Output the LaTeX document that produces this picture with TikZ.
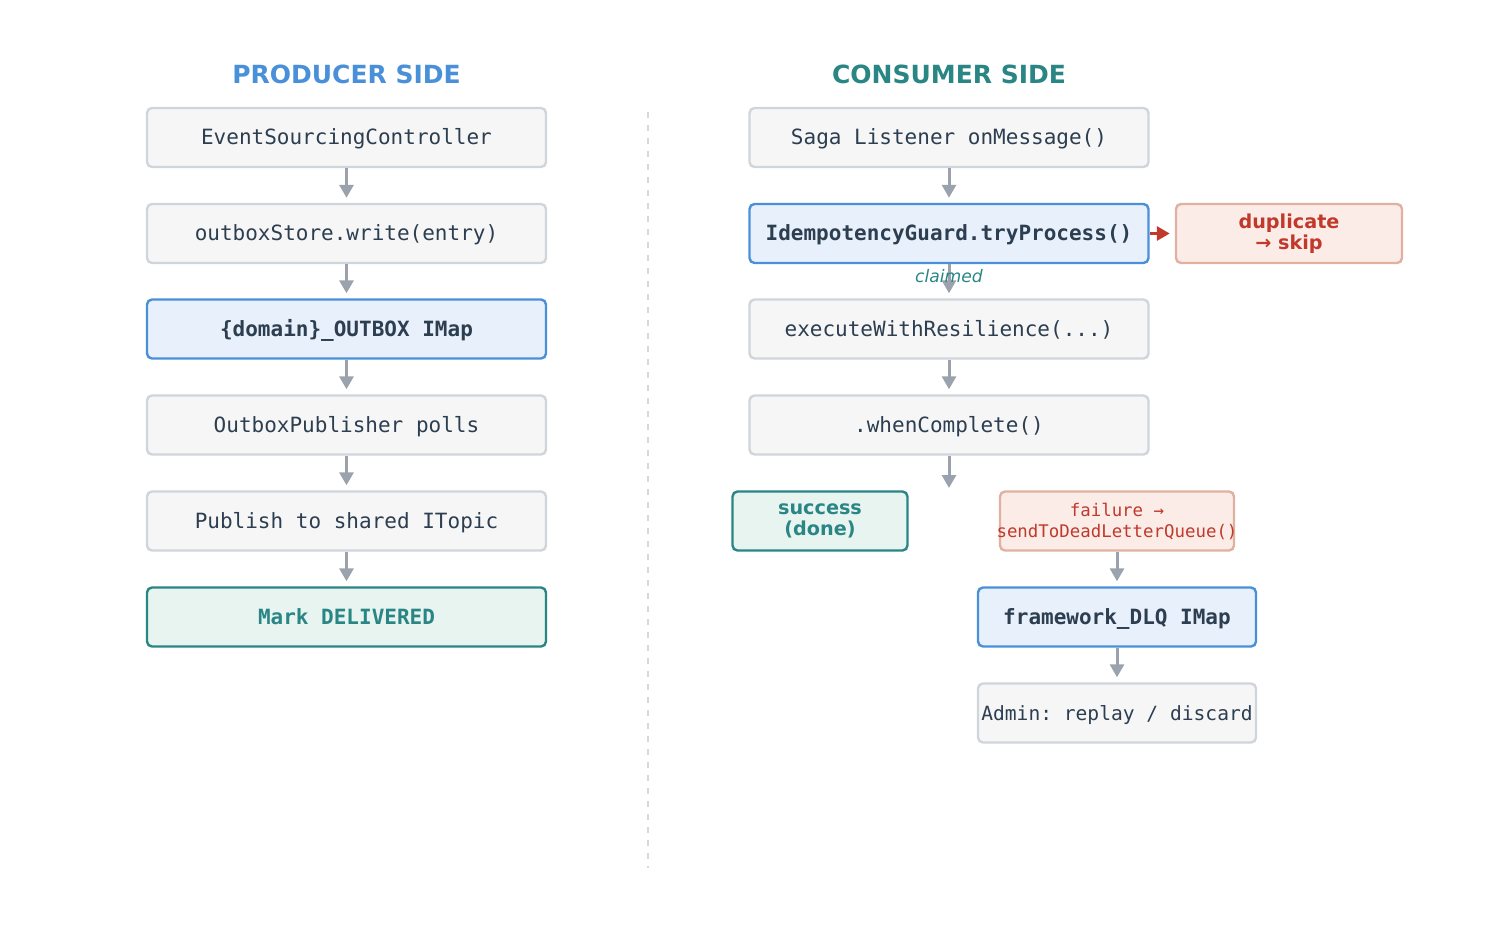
\documentclass[tikz,border=0pt]{standalone}
\usepackage{fontspec}
\setmainfont{DejaVu Sans}
\newfontfamily\monofont{DejaVu Sans Mono}
\usetikzlibrary{arrows.meta}
\frenchspacing
\definecolor{txt}{HTML}{2C3E50}
\definecolor{grayfill}{HTML}{F6F6F6}
\definecolor{grayline}{HTML}{D0D5DC}
\definecolor{bluefill}{HTML}{E8F0FB}
\definecolor{blueline}{HTML}{4A90D9}
\definecolor{greenfill}{HTML}{E8F4F0}
\definecolor{teal}{HTML}{2A8585}
\definecolor{redfill}{HTML}{FBECE8}
\definecolor{redline}{HTML}{E0B0A0}
\definecolor{redtxt}{HTML}{C0392B}
\definecolor{arrowgray}{HTML}{9AA3AD}
\definecolor{divider}{HTML}{D8D8D8}
\tikzset{
  boxbase/.style={draw=grayline, fill=grayfill, line width=1.2pt, rounded corners=2.5pt,
    minimum width=199.5pt, minimum height=29.5pt, inner sep=0pt, text=txt},
  box/.style={boxbase, text height=7.7pt, text depth=0.5pt,
    font=\monofont\fontsize{10.5}{12}\selectfont},
  bluebox/.style={box, draw=blueline, fill=bluefill, font=\monofont\bfseries\fontsize{10.5}{12}\selectfont},
  greenbox/.style={box, draw=teal, fill=greenfill, text=teal, font=\monofont\bfseries\fontsize{10.5}{12}\selectfont},
  twoline/.style={boxbase, align=center},
  flow/.style={draw=arrowgray, line width=1.5pt, -{Triangle[width=7pt,length=6.5pt]}, shorten >=2.5pt},
  redflow/.style={draw=redtxt, line width=1.5pt, -{Triangle[width=7pt,length=6.5pt]}, shorten >=2.5pt},
  title/.style={font=\bfseries\fontsize{12.5}{14}\selectfont}
}
\begin{document}
\begin{tikzpicture}[x=0.5pt,y=-0.5pt]
\useasboundingbox (0,0) rectangle (1485,944);
% titles
\node[title, text=blueline] (pt) at (346.5,74.5) {PRODUCER SIDE};
\node[title, text=teal] (ct) at (949,74.5) {CONSUMER SIDE};
% divider
\coordinate (d1) at (648,112);
\coordinate (d2) at (648,868);
\draw[divider, line width=1.3pt, dash pattern=on 3pt off 3.5pt] (d1) -- (d2);
% producer
\node[box] (p1) at (346.5,137.5) {EventSourcingController};
\node[box] (p2) at (346.5,233.5) {outboxStore.write(entry)};
\node[bluebox] (p3) at (346.5,329) {\{domain\}\_OUTBOX IMap};
\node[box] (p4) at (346.5,425) {OutboxPublisher polls};
\node[box] (p5) at (346.5,521) {Publish to shared ITopic};
\node[greenbox] (p6) at (346.5,617) {Mark DELIVERED};
\draw[flow] (p1) -- (p2);
\draw[flow] (p2) -- (p3);
\draw[flow] (p3) -- (p4);
\draw[flow] (p4) -- (p5);
\draw[flow] (p5) -- (p6);
% consumer
\node[box] (c1) at (949,137.5) {Saga Listener onMessage()};
\node[bluebox] (c2) at (949,233.5) {IdempotencyGuard.tryProcess()};
\node[twoline, draw=redline, fill=redfill, text=redtxt, minimum width=113pt, font=\bfseries\fontsize{9.6}{10.5}\selectfont] (dup) at (1289,233.5) {duplicate\\→ skip};
\node[box] (c3) at (949,329) {executeWithResilience(...)};
\node[box] (c4) at (949,425) {.whenComplete()};
\coordinate (c4end) at (949,488);
\node[twoline, draw=teal, fill=greenfill, text=teal, minimum width=87.5pt, font=\bfseries\fontsize{9.6}{10.5}\selectfont] (succ) at (820,521) {success\\(done)};
\node[twoline, draw=redline, fill=redfill, text=redtxt, minimum width=117pt, inner xsep=-4pt, font=\monofont\fontsize{8.7}{10.5}\selectfont] (fail) at (1117,521) {failure →\\sendToDeadLetterQueue()};
\node[bluebox, minimum width=139pt] (dlq) at (1117,617) {framework\_DLQ IMap};
\node[box, minimum width=139pt, font=\monofont\fontsize{9.8}{12}\selectfont] (adm) at (1117,713) {Admin: replay / discard};
\draw[flow] (c1) -- (c2);
\draw[flow] (c2) -- (c3);
\node[font=\itshape\fontsize{8.6}{10}\selectfont, text=teal] (claimed) at (949,276) {claimed};
\draw[redflow] (c2) -- (dup);
\draw[flow] (c3) -- (c4);
\draw[flow, shorten >=0pt] (c4) -- (c4end);
\draw[flow] (fail) -- (dlq);
\draw[flow] (dlq) -- (adm);
\end{tikzpicture}
\end{document}
